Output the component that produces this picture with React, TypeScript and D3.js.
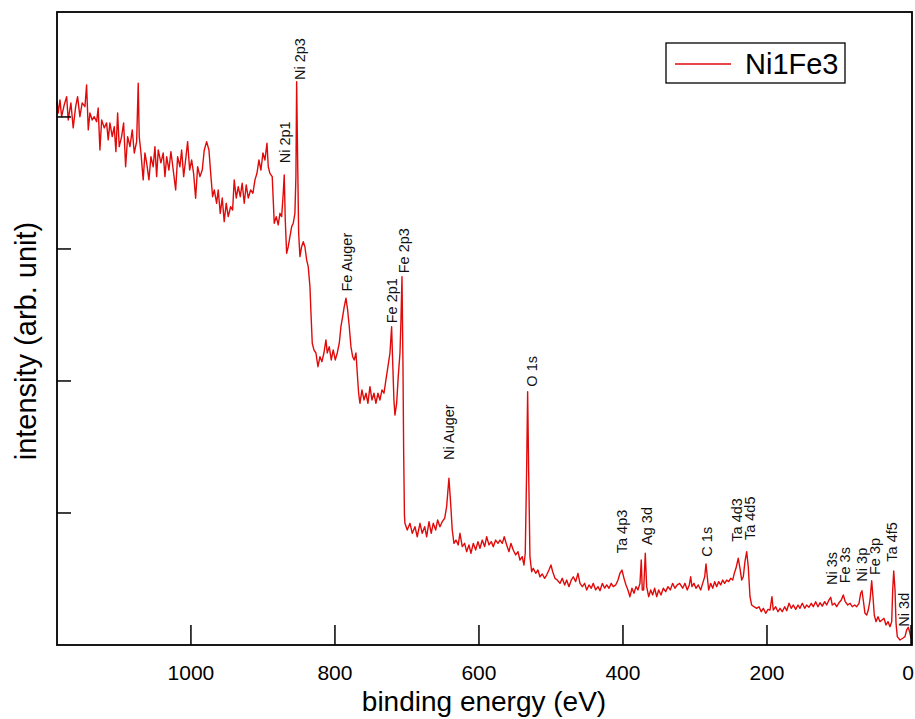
import React from "react";
import * as d3 from "d3";

// binding energy (eV), descending
const energy = [
  1186, 1184.3, 1181.9, 1179.6, 1176.0, 1172.6, 1170.4, 1166.7, 1163.5, 1160.1, 1157.4, 1154.2, 1151.0, 1147.2, 1144.9, 1142.6, 1140.3, 1137.1, 1134.3, 1131.0,
  1128.8, 1126.4, 1124.0, 1120.4, 1117.1, 1114.9, 1112.5, 1109.3, 1106.5, 1104.2, 1101.8, 1099.6, 1096.3, 1093.5, 1090.7, 1087.9, 1084.7, 1081.5, 1078.7, 1075.4,
  1073.2, 1071.8, 1069.4, 1066.3, 1063.9, 1061.5, 1058.3, 1055.6, 1052.4, 1050.0, 1047.6, 1045.4, 1041.7, 1038.5, 1036.1, 1033.7, 1030.6, 1027.8, 1024.6, 1021.2,
  1018.5, 1015.3, 1012.9, 1010.1, 1007.4, 1004.6, 1001.8, 999.0, 996.3, 993.5, 990.7, 987.5, 984.3, 981.5, 978.2, 975.0, 972.2, 969.9, 967.6, 964.3,
  962.1, 959.3, 956.5, 953.8, 951.0, 948.2, 944.9, 942.1, 939.9, 937.1, 934.3, 931.5, 928.8, 926.0, 923.2, 920.4, 917.1, 913.9, 911.1, 908.3,
  905.6, 902.8, 900.0, 897.2, 894.4, 892.6, 890.3, 887.1, 884.3, 881.5, 878.8, 876.4, 874.0, 871.8, 870.4, 869.0, 867.1, 864.9, 862.5, 860.1,
  857.9, 855.6, 854.2, 853.2, 851.8, 850.4, 848.6, 846.3, 844.0, 841.7, 839.3, 837.1, 834.7, 833.3, 831.5, 829.2, 826.4, 823.6, 820.8, 818.1,
  815.3, 812.5, 810.7, 807.9, 805.1, 802.4, 799.6, 796.8, 794.0, 791.7, 789.3, 787.1, 784.7, 782.4, 780.1, 777.8, 775.4, 773.2, 770.8, 769.0,
  767.1, 765.3, 762.5, 759.7, 756.9, 754.2, 751.4, 748.6, 745.8, 743.1, 740.3, 737.5, 734.7, 731.9, 729.2, 726.4, 723.6, 721.3, 719.9, 718.1,
  716.7, 714.3, 712.1, 709.7, 708.3, 706.9, 705.6, 704.6, 703.5, 702.8, 699.6, 695.8, 692.6, 688.9, 685.7, 681.9, 678.8, 675.4, 672.6, 669.4,
  666.3, 663.5, 660.1, 657.4, 654.2, 651.0, 647.6, 644.9, 641.7, 639.3, 637.1, 634.7, 631.9, 628.8, 626.4, 623.2, 619.9, 617.1, 613.9, 611.1,
  607.9, 604.6, 601.4, 598.6, 595.4, 592.1, 589.3, 586.1, 582.9, 580.1, 576.8, 573.6, 570.8, 567.6, 564.9, 561.5, 558.3, 555.6, 552.4, 549.0,
  545.8, 543.1, 539.9, 537.5, 535.7, 533.8, 532.4, 531.0, 529.2, 526.8, 524.6, 521.2, 518.1, 515.3, 512.1, 508.8, 506.0, 502.8, 500.0, 497.6,
  494.4, 491.3, 487.5, 484.3, 481.0, 478.2, 475.0, 471.8, 469.0, 465.7, 462.5, 459.7, 456.5, 453.2, 450.4, 447.2, 444.0, 441.3, 437.9, 434.7,
  431.9, 428.7, 425.4, 422.6, 419.4, 416.3, 413.5, 410.1, 406.9, 404.2, 401.4, 398.6, 395.8, 393.1, 390.3, 387.5, 384.7, 381.9, 379.2, 376.4,
  374.6, 373.2, 371.3, 369.0, 367.1, 364.3, 361.5, 358.8, 356.0, 353.2, 350.4, 347.2, 344.0, 340.7, 337.5, 334.3, 331.0, 327.8, 324.6, 321.3,
  317.1, 313.9, 310.7, 307.9, 306.0, 304.2, 301.4, 298.6, 295.4, 292.1, 289.3, 286.5, 284.7, 282.9, 281.0, 278.2, 275.4, 272.6, 269.9, 267.1,
  264.3, 261.5, 258.8, 256.0, 253.2, 250.4, 247.6, 245.4, 243.1, 239.9, 237.5, 235.1, 232.9, 230.6, 228.2, 226.0, 223.6, 221.3, 218.1, 214.3,
  211.1, 207.9, 205.1, 201.8, 198.6, 195.8, 193.1, 191.3, 187.9, 184.7, 181.9, 178.8, 175.4, 172.6, 169.4, 166.3, 163.5, 160.1, 156.9, 154.2,
  151.0, 147.6, 144.9, 141.7, 138.5, 135.7, 132.4, 129.2, 126.4, 123.2, 119.9, 117.1, 113.9, 111.5, 109.3, 106.0, 103.2, 100.0, 96.8, 94.0,
  91.3, 87.9, 84.7, 81.5, 78.2, 75.4, 72.2, 69.9, 68.1, 66.3, 63.9, 61.5, 59.3, 56.9, 54.6, 52.8, 51.0, 48.6, 45.8, 43.1,
  40.3, 37.5, 34.7, 31.9, 29.2, 26.8, 25.4, 24.0, 22.2, 20.8, 19.0, 15.3, 11.5, 8.3, 6.0, 3.8, 1.4, 0
];

// intensity (arb. unit)
const intensity = [
  41.16, 40.30, 41.29, 40.02, 40.91, 41.54, 39.77, 41.06, 39.17, 40.78, 41.54, 40.02, 41.06, 40.78, 42.42, 39.02, 40.30, 39.77, 40.02, 39.64,
  40.68, 37.50, 39.77, 39.17, 39.55, 38.26, 39.55, 38.51, 39.27, 37.37, 40.30, 37.75, 38.51, 39.55, 36.23, 38.51, 37.75, 39.02, 37.27, 38.13,
  42.55, 38.51, 37.27, 35.23, 37.27, 36.52, 35.23, 36.99, 36.23, 37.75, 35.48, 37.50, 36.52, 37.27, 35.48, 36.99, 35.98, 37.37, 35.98, 34.47,
  36.99, 36.23, 37.50, 35.48, 36.74, 38.13, 35.98, 36.74, 35.73, 33.84, 36.23, 35.48, 35.98, 37.50, 38.13, 37.50, 35.48, 33.96, 34.47, 33.46,
  34.47, 32.70, 33.86, 32.07, 33.46, 32.45, 33.20, 32.95, 35.23, 33.86, 34.72, 33.96, 34.98, 33.46, 34.85, 33.86, 34.47, 34.22, 35.23, 35.73,
  36.74, 35.98, 37.27, 36.74, 38.01, 36.23, 35.73, 35.48, 31.95, 32.45, 31.82, 32.70, 32.45, 34.24, 35.61, 32.20, 29.67, 30.17, 30.93, 31.69,
  31.95, 32.70, 35.48, 42.67, 36.74, 31.19, 29.42, 30.17, 30.55, 30.17, 29.17, 28.66, 27.14, 25.15, 22.86, 22.35, 22.12, 21.08, 21.84, 21.46,
  22.12, 23.11, 22.12, 22.60, 21.59, 22.35, 21.59, 22.12, 22.86, 24.11, 24.87, 25.63, 26.27, 25.38, 24.11, 22.60, 21.84, 21.59, 22.12, 20.58,
  19.07, 18.31, 19.32, 18.56, 19.07, 18.31, 19.57, 18.56, 19.07, 18.31, 19.07, 18.56, 19.32, 19.07, 20.08, 21.08, 22.12, 24.11, 21.59, 18.56,
  17.42, 18.31, 20.33, 22.12, 24.62, 27.90, 21.59, 14.77, 9.85, 9.22, 8.71, 9.22, 8.46, 8.96, 8.20, 9.22, 8.46, 8.96, 8.20, 9.34,
  8.46, 9.22, 8.71, 9.47, 8.96, 9.34, 9.60, 10.48, 12.63, 10.73, 8.71, 7.70, 7.95, 7.58, 8.46, 7.45, 7.70, 7.07, 7.58, 6.95,
  7.70, 7.20, 7.83, 7.33, 7.95, 7.45, 8.20, 7.58, 7.83, 7.45, 7.95, 7.70, 7.95, 7.70, 8.20, 7.58, 7.07, 7.70, 7.20, 6.82,
  7.07, 6.44, 6.69, 6.06, 6.95, 13.26, 19.19, 13.26, 6.69, 5.55, 5.81, 5.43, 5.68, 5.17, 5.38, 5.05, 5.30, 5.68, 6.06, 5.55,
  5.05, 4.92, 4.67, 5.05, 4.55, 4.92, 4.42, 4.92, 5.17, 4.80, 5.43, 4.67, 4.42, 4.67, 4.17, 4.55, 4.30, 4.67, 4.17, 4.42,
  4.11, 4.67, 4.30, 4.55, 4.30, 4.67, 4.42, 4.55, 4.92, 5.43, 5.68, 5.05, 4.55, 4.17, 3.66, 4.30, 3.92, 4.42, 4.17, 4.67,
  6.44, 4.17, 4.17, 6.95, 4.42, 3.66, 4.17, 3.79, 4.30, 3.66, 4.17, 3.79, 4.30, 4.04, 4.42, 4.17, 4.67, 4.30, 4.55, 4.67,
  4.30, 4.67, 4.17, 4.55, 5.17, 4.42, 4.67, 4.30, 4.55, 4.17, 4.67, 5.17, 6.14, 5.17, 4.17, 4.67, 4.30, 4.80, 4.42, 4.80,
  4.55, 4.92, 4.67, 4.92, 4.80, 5.05, 4.92, 5.43, 5.81, 6.57, 5.81, 4.92, 5.17, 6.31, 7.07, 5.93, 3.66, 3.03, 2.90, 2.78,
  2.90, 2.52, 2.78, 2.40, 2.70, 2.65, 3.66, 2.65, 2.90, 2.52, 2.78, 2.52, 2.90, 2.60, 3.16, 2.78, 3.03, 2.70, 3.03, 2.78,
  3.16, 2.78, 3.03, 2.86, 3.16, 2.90, 3.28, 2.90, 3.20, 2.95, 3.28, 3.03, 3.41, 3.61, 3.03, 3.16, 2.90, 3.20, 3.41, 3.79,
  3.28, 3.03, 3.16, 2.90, 3.03, 2.90, 3.16, 3.92, 4.11, 3.41, 2.40, 2.27, 2.65, 3.41, 4.87, 3.66, 2.27, 1.77, 2.14, 1.77,
  1.89, 2.02, 1.52, 1.77, 1.39, 1.77, 4.17, 5.61, 4.17, 1.64, 0.63, 0.38, 0.51, 0.63, 1.14, 1.34, 0.89, 0.51
];

// peak annotations: label, energy position, intensity at label start
const peakLabels = ["Ni 2p1", "Ni 2p3", "Fe Auger", "Fe 2p1", "Fe 2p3", "Ni Auger", "O 1s", "Ta 4p3", "Ag 3d", "C 1s", "Ta 4d3", "Ta 4d5", "Ni 3s", "Fe 3s", "Ni 3p", "Fe 3p", "Ta 4f5", "Ni 3d"];
const peakLabelEnergy = [862.0, 841.1, 776.3, 713.8, 697.6, 635.1, 519.3, 394.3, 359.6, 276.3, 234.6, 216.1, 102.6, 84.2, 61.0, 42.5, 19.3, 3.2];
const peakLabelLevel = [36.49, 42.80, 26.77, 24.37, 28.16, 14.02, 19.57, 6.95, 7.58, 6.69, 7.83, 7.95, 4.55, 4.67, 4.80, 5.30, 6.31, 1.39];

const xTicks = [1000, 800, 600, 400, 200, 0];
const yTicks = [10, 20, 30, 40];
const seriesName = "Ni1Fe3";

const W = 915;
const H = 719;
const left = 57;
const right = 912;
const top = 12;
const bottom = 645;
const FONT = "'Liberation Sans', Arial, sans-serif";
const RED = "#e10a0a";

export default function App() {
  const x = d3.scaleLinear().domain([1186, 0]).range([left, 911]);
  const y = d3.scaleLinear().domain([0, 47.95]).range([bottom, top]);
  const pts = energy.map((e, i) => [e, intensity[i]] as [number, number]);
  const line = d3
    .line<[number, number]>()
    .x((d) => x(d[0]))
    .y((d) => y(d[1]));

  return (
    <svg
      width={W}
      height={H}
      style={{ position: "absolute", left: 0, top: 0, background: "#fff" }}
      fontFamily={FONT}
    >
      <rect x={0} y={0} width={W} height={H} fill="#fff" />
      <path d={line(pts) || ""} fill="none" stroke={RED} strokeWidth={1.4} strokeLinejoin="round" />

      {peakLabels.map((lab, i) => {
        const px = x(peakLabelEnergy[i]);
        const py = y(peakLabelLevel[i]);
        return (
          <text
            key={lab}
            transform={`translate(${px},${py}) rotate(-90)`}
            fontSize={14.5}
            fill="#111"
          >
            {lab}
          </text>
        );
      })}

      {/* frame */}
      <rect x={left} y={top} width={right - left} height={bottom - top} fill="none" stroke="#000" strokeWidth={1.8} />

      {/* x ticks */}
      {xTicks.map((t) => (
        <g key={t}>
          <line x1={x(t)} x2={x(t)} y1={bottom} y2={bottom - 20} stroke="#000" strokeWidth={1.5} />
          <text
            x={t === 0 ? 914 : x(t)}
            y={680}
            textAnchor={t === 0 ? "end" : "middle"}
            fontSize={21}
            fill="#000"
          >
            {t}
          </text>
        </g>
      ))}
      {/* y ticks */}
      {yTicks.map((t) => (
        <line key={t} x1={left} x2={left + 14} y1={y(t)} y2={y(t)} stroke="#000" strokeWidth={1.5} />
      ))}

      <text x={484} y={711} textAnchor="middle" fontSize={28} fill="#000">
        binding energy (eV)
      </text>
      <text transform={`translate(36,341) rotate(-90)`} textAnchor="middle" fontSize={29} fill="#000">
        intensity (arb. unit)
      </text>

      {/* legend */}
      <rect x={666} y={43} width={179} height={40} fill="#fff" stroke="#000" strokeWidth={1.3} />
      <line x1={675} x2={731} y1={64} y2={64} stroke={RED} strokeWidth={1.3} />
      <text x={745} y={73.5} fontSize={29} fill="#000">
        {seriesName}
      </text>
    </svg>
  );
}
